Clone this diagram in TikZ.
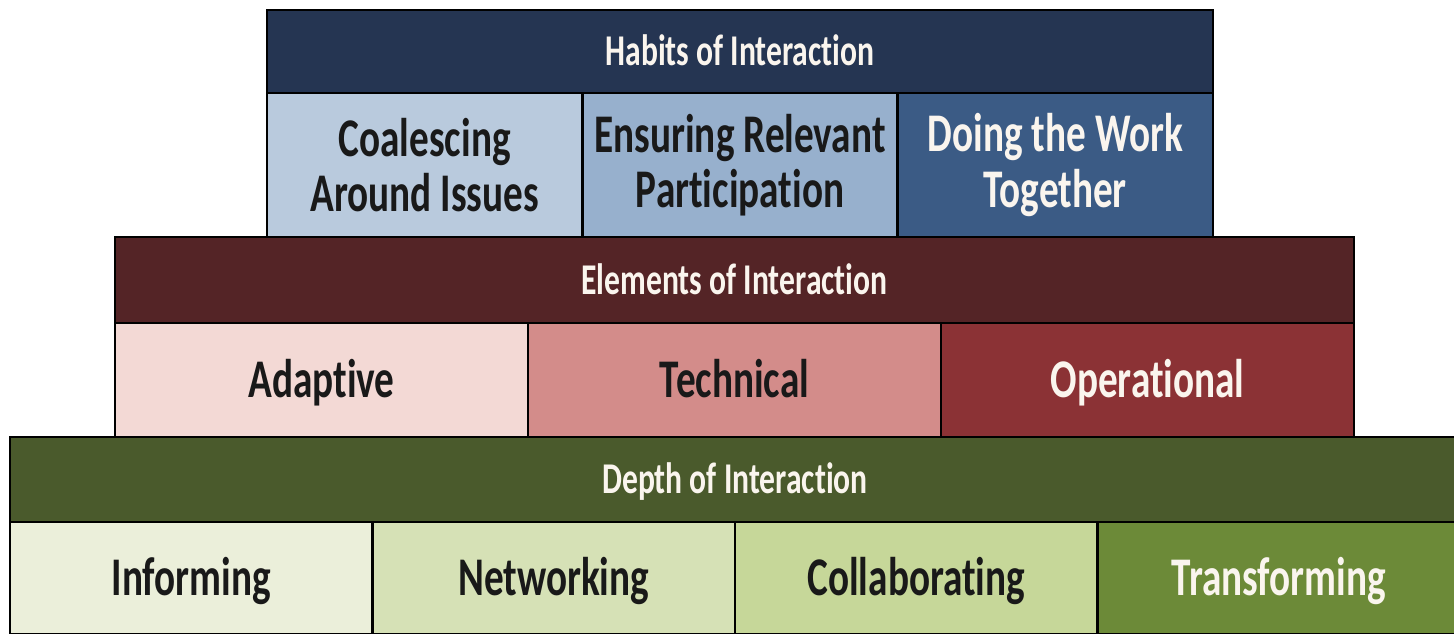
\documentclass[tikz,border=0pt]{standalone}
\usepackage{fontspec}
\setmainfont{Carlito}[FakeStretch=0.72, RawFeature={-liga;-clig;-calt;-dlig}]
\usetikzlibrary{positioning}

\definecolor{habhead}{RGB}{37,53,82}
\definecolor{habA}{RGB}{185,202,221}
\definecolor{habB}{RGB}{151,176,205}
\definecolor{habC}{RGB}{59,91,133}
\definecolor{elhead}{RGB}{84,36,38}
\definecolor{elA}{RGB}{243,217,213}
\definecolor{elB}{RGB}{211,140,138}
\definecolor{elC}{RGB}{139,50,53}
\definecolor{dephead}{RGB}{74,90,44}
\definecolor{depA}{RGB}{235,239,218}
\definecolor{depB}{RGB}{214,225,182}
\definecolor{depC}{RGB}{198,215,153}
\definecolor{depD}{RGB}{108,138,56}
\definecolor{paper}{RGB}{250,245,238}

\begin{document}
\begin{tikzpicture}
\tikzset{box/.style={draw=black, line width=1.4pt, inner sep=0pt, outer sep=0pt, align=center}}
\tikzset{head/.style={box, anchor=north west, text=paper, text height=16.1pt, text depth=0pt, font=\bfseries\fontsize{25}{26}\selectfont}}
\tikzset{cell/.style={box, text=black!90, font=\bfseries\fontsize{31}{31.5}\selectfont}}
\tikzset{habcell/.style={cell, minimum width=6.3067cm, minimum height=2.88cm}}
\tikzset{elcell/.style={cell, text height=20pt, text depth=0pt, minimum width=8.26cm, minimum height=2.28cm}}
\tikzset{depcell/.style={cell, text height=20pt, text depth=0pt, minimum width=7.25cm, minimum height=2.24cm}}
\useasboundingbox (0,0) rectangle (29.08,-12.68);
\clip (0,0) rectangle (29.08,-12.68);

% top tier
\node[head, fill=habhead, minimum width=18.92cm, minimum height=1.66cm] (habits) at (5.34,-0.2) {Habits of Interaction};
\node[habcell, anchor=north west, fill=habA] (coal) at (habits.south west) {Coalescing\\Around Issues};
\node[habcell, right=0pt of coal, fill=habB] (relev) {Ensuring Relevant\\Participation};
\node[habcell, right=0pt of relev, fill=habC, text=paper] (work) {Doing the Work\\Together};

% middle tier
\node[head, fill=elhead, minimum width=24.78cm, minimum height=1.72cm] (elements) at (2.30,-4.74) {Elements of Interaction};
\node[elcell, anchor=north west, fill=elA] (adapt) at (elements.south west) {Adaptive};
\node[elcell, right=0pt of adapt, fill=elB] (techn) {Technical};
\node[elcell, right=0pt of techn, fill=elC, text=paper] (oper) {Operational};

% bottom tier, runs off the right edge
\node[head, fill=dephead, minimum width=29.0cm, minimum height=1.70cm] (depth) at (0.2,-8.74) {Depth of Interaction};
\node[depcell, anchor=north west, fill=depA] (inform) at (depth.south west) {Informing};
\node[depcell, right=0pt of inform, fill=depB] (netw) {Networking};
\node[depcell, right=0pt of netw, fill=depC] (collab) {Collaborating};
\node[depcell, right=0pt of collab, fill=depD, text=paper] (transf) {Transforming};
\end{tikzpicture}
\end{document}
